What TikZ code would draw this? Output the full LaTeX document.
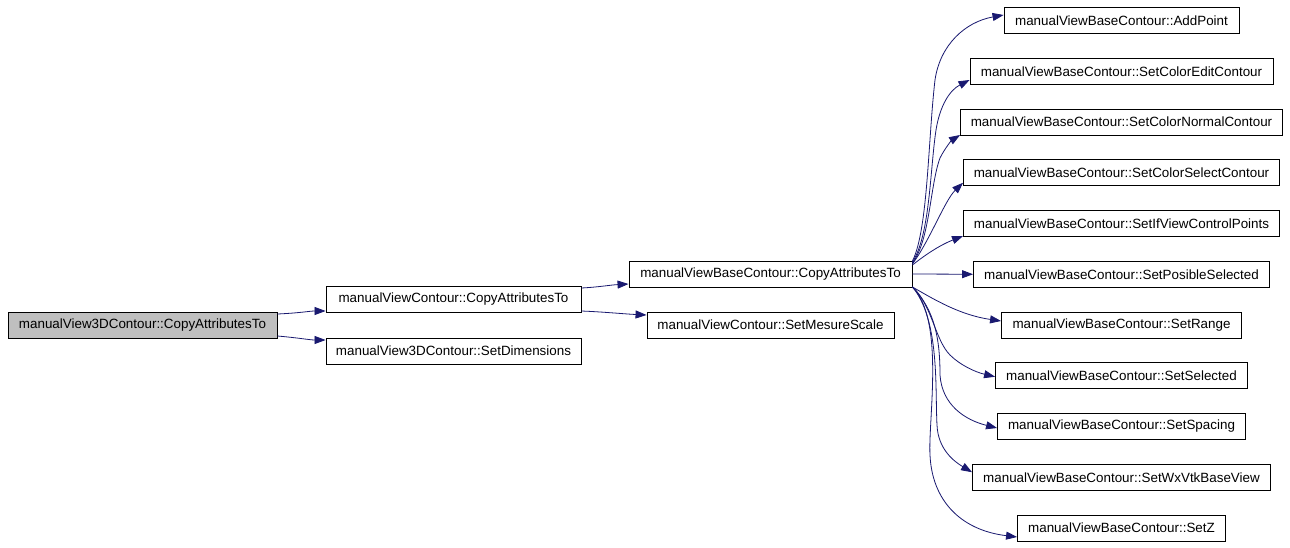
\documentclass[tikz,border=0pt]{standalone}
\usepackage{fontspec}
\setmainfont{Liberation Sans}
\usetikzlibrary{arrows.meta}
\definecolor{edgeblue}{HTML}{191970}
\definecolor{rootgray}{HTML}{BFBFBF}
\begin{document}
\begin{tikzpicture}[x=1pt,y=-1pt,
  fn/.style={draw=black,line width=0.9pt,fill=white,inner sep=0pt,minimum height=26pt,
    font=\fontsize{13.4}{16}\selectfont,text=black},
  rootfn/.style={fn,fill=rootgray},
  edge/.style={draw=edgeblue,line width=0.8pt,-{Triangle[length=11pt,width=8pt]}}]
\useasboundingbox[fill=white] (0,0) rectangle (1290,548);
\node[rootfn,minimum width=269pt] (root) at (142.5,325) {manualView3DContour::CopyAttributesTo};
\node[fn,minimum width=255pt] (cc) at (453.5,299) {manualViewContour::CopyAttributesTo};
\node[fn,minimum width=255pt] (sd) at (453.5,351) {manualView3DContour::SetDimensions};
\node[fn,minimum width=283pt] (bc) at (770.5,274) {manualViewBaseContour::CopyAttributesTo};
\node[fn,minimum width=247pt] (ms) at (770.5,325) {manualViewContour::SetMesureScale};
\node[fn,minimum width=235pt] (ap) at (1121.5,20.5) {manualViewBaseContour::AddPoint};
\node[fn,minimum width=303pt] (ce) at (1121.5,71.25) {manualViewBaseContour::SetColorEditContour};
\node[fn,minimum width=322pt] (cn) at (1121.5,122) {manualViewBaseContour::SetColorNormalContour};
\node[fn,minimum width=316pt] (cs) at (1121.5,172.75) {manualViewBaseContour::SetColorSelectContour};
\node[fn,minimum width=316pt] (iv) at (1121.5,223.5) {manualViewBaseContour::SetIfViewControlPoints};
\node[fn,minimum width=296pt] (ps) at (1121.5,274.25) {manualViewBaseContour::SetPosibleSelected};
\node[fn,minimum width=240pt] (sr) at (1121.5,325) {manualViewBaseContour::SetRange};
\node[fn,minimum width=252pt] (ss) at (1121.5,375.75) {manualViewBaseContour::SetSelected};
\node[fn,minimum width=248pt] (sp) at (1121.5,426.5) {manualViewBaseContour::SetSpacing};
\node[fn,minimum width=298pt] (wx) at (1121.5,477.25) {manualViewBaseContour::SetWxVtkBaseView};
\node[fn,minimum width=208pt] (sz) at (1121.5,528) {manualViewBaseContour::SetZ};
% left edges
\draw[edge] ([yshift=11pt]root.east) .. controls (300,313) and (310,311) .. ([yshift=-12pt]cc.west);
\draw[edge] ([yshift=-11pt]root.east) .. controls (300,338) and (310,340) .. ([yshift=11pt]sd.west);
\draw[edge] ([yshift=11pt]cc.east) .. controls (600,287) and (610,285) .. ([yshift=-10pt]bc.west);
\draw[edge] ([yshift=-12pt]cc.east) .. controls (605,312) and (625,314) .. ([yshift=10pt]ms.west);
% fan
\draw[edge] ([yshift=13pt]bc.east) .. controls (928,230) and (928,140) .. (935,80) .. controls (940,45) and (965,22) .. ([yshift=5.5pt]ap.west);
\draw[edge] ([yshift=12pt]bc.east) .. controls (930,235) and (930,170) .. (936,130) .. controls (940,105) and (950,90) .. ([yshift=-8.75pt]ce.west);
\draw[edge] ([yshift=11pt]bc.east) .. controls (930,240) and (930,185) .. (940,158) .. controls (945,148) and (952,140) .. ([yshift=-13pt]cn.west);
\draw[edge] ([yshift=10pt]bc.east) .. controls (930,240) and (945,200) .. ([yshift=-10pt]cs.west);
\draw[edge] ([yshift=9pt]bc.east) .. controls (925,255) and (940,245) .. ([yshift=-12.5pt]iv.west);
\draw[edge] (bc.east) -- (ps.west);
\draw[edge] ([yshift=-13pt]bc.east) .. controls (935,300) and (960,315) .. ([yshift=4pt]sr.west);
\draw[edge] ([yshift=-13pt]bc.east) .. controls (932,305) and (935,340) .. (950,355) .. controls (960,365) and (975,372) .. ([yshift=-1pt]ss.west);
\draw[edge] ([yshift=-13pt]bc.east) .. controls (935,310) and (940,340) .. (940,375) .. controls (942,405) and (965,420) .. ([yshift=-1.5pt]sp.west);
\draw[edge] ([yshift=-13pt]bc.east) .. controls (940,320) and (935,390) .. (937,425) .. controls (938,450) and (955,462) .. ([yshift=5pt]wx.west);
\draw[edge] ([yshift=-13pt]bc.east) .. controls (945,320) and (928,420) .. (930,455) .. controls (932,500) and (960,530) .. ([yshift=-9pt]sz.west);
\end{tikzpicture}
\end{document}
